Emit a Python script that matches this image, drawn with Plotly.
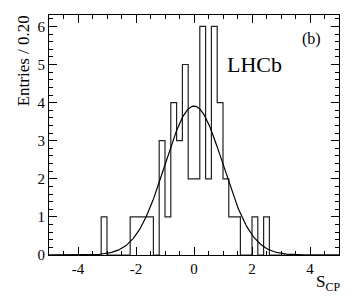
import numpy as np
import plotly.graph_objects as go

# ---- data ----
x_min, x_max = -5.0, 5.0
bin_width = 0.2
# counts per 0.2-wide bin, from -5.0 to 5.0 (50 bins)
counts = [0, 0, 0, 0, 0, 0, 0, 0, 0, 1,
          0, 0, 0, 0, 1, 1, 1, 1, 0, 3,
          1, 4, 3, 5, 2, 2, 6, 2, 6, 4,
          2, 1, 1, 0, 0, 1, 0, 1, 0, 0,
          0, 0, 0, 0, 0, 0, 0, 0, 0, 0]
gauss_mean = 0.0
gauss_sigma = 1.0
x_tickvals = [-4, -2, 0, 2, 4]
x_ticktext = ["-4", "-2", "0", "2", "4"]
y_tickvals = [0, 1, 2, 3, 4, 5, 6]
y_ticktext = ["0", "1", "2", "3", "4", "5", "6"]

# ---- build histogram step outline ----
edges = x_min + bin_width * np.arange(len(counts) + 1)
step_x = list(edges)
step_y = list(counts) + [counts[-1]]

n_entries = sum(counts)
curve_x = np.linspace(x_min, x_max, 400)
amp = n_entries * bin_width / (gauss_sigma * np.sqrt(2 * np.pi))
curve_y = amp * np.exp(-0.5 * ((curve_x - gauss_mean) / gauss_sigma) ** 2)

FONT = "Liberation Serif, Times New Roman, DejaVu Serif, serif"

fig = go.Figure()
fig.add_trace(go.Scatter(x=step_x, y=step_y, mode="lines", line_shape="hv",
                         line=dict(color="#222222", width=1.2), hoverinfo="skip"))
fig.add_trace(go.Scatter(x=curve_x, y=curve_y, mode="lines",
                         line=dict(color="black", width=1.2), hoverinfo="skip"))

axis_common = dict(showgrid=False, zeroline=False, showline=True, linecolor="black",
                   linewidth=1.2, mirror="ticks", ticks="inside", tickcolor="black",
                   tickwidth=1, ticklen=8,
                   tickfont=dict(family=FONT, size=15, color="black"))

fig.update_xaxes(range=[x_min, x_max], tickvals=x_tickvals, ticktext=x_ticktext,
                 minor=dict(ticks="inside", dtick=0.5, tick0=0, ticklen=4,
                            tickcolor="black", tickwidth=1, showgrid=False),
                 **axis_common)
fig.update_yaxes(range=[0, 6.3], tickvals=y_tickvals, ticktext=y_ticktext,
                 minor=dict(ticks="inside", dtick=0.2, tick0=0, ticklen=4,
                            tickcolor="black", tickwidth=1, showgrid=False),
                 **axis_common)

fig.update_layout(
    width=357, height=302,
    margin=dict(l=49, r=18, t=15, b=47),
    plot_bgcolor="white", paper_bgcolor="white",
    showlegend=False,
    font=dict(family=FONT, color="black"),
    annotations=[
        dict(text="LHCb", x=1.06, y=5.0, xref="x", yref="y", xanchor="left",
             yanchor="middle", showarrow=False, font=dict(family=FONT, size=22)),
        dict(text="(b)", x=3.64, y=5.67, xref="x", yref="y", xanchor="left",
             yanchor="middle", showarrow=False, font=dict(family=FONT, size=16)),
        dict(text="S<sub>CP</sub>", x=1.0, y=-0.115, xref="paper", yref="paper",
             xanchor="right", yanchor="middle", showarrow=False, xshift=3,
             font=dict(family=FONT, size=17)),
        dict(text="Entries / 0.20", x=-0.087, y=1.008, xref="paper", yref="paper",
             xanchor="center", yanchor="top", textangle=-90, showarrow=False,
             font=dict(family=FONT, size=17)),
    ],
)

fig.write_html("out.html", config={"displayModeBar": False},
               post_script="document.body.style.margin='0';document.body.style.overflow='hidden';")
